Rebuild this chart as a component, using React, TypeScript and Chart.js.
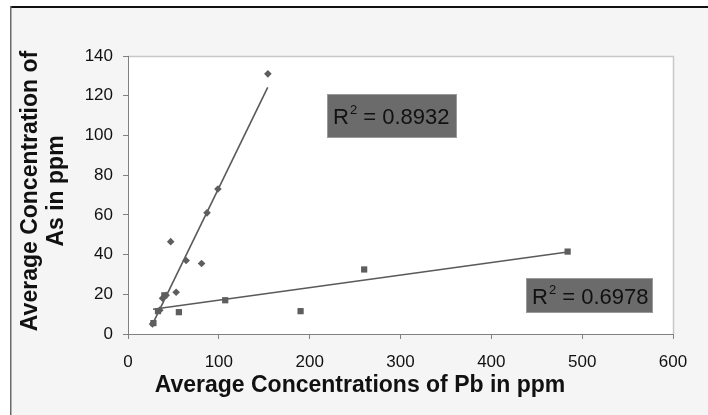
import React, { useEffect, useRef } from "react";
import { Chart, registerables } from "chart.js";

Chart.register(...registerables);

// Series 1 (diamonds): As vs Pb, steep group
const asGroupX = [154, 99, 87, 47, 64, 81, 53, 42, 38, 35, 27];
const asGroupY = [131, 73, 61, 46.5, 37, 35.5, 21, 19.5, 18, 12, 5];
// Series 2 (squares)
const pbGroupX = [484, 260, 190, 107, 56, 40, 33, 28];
const pbGroupY = [41.5, 32.5, 11.5, 17, 11, 19.5, 11.5, 5.5];
// Linear trendline end points
const trendAsX = [26.5, 153.8];
const trendAsY = [4.5, 124.2];
const trendPbX = [27.6, 484];
const trendPbY = [12.5, 41.3];
// Axis ticks
const xTicks = [0, 100, 200, 300, 400, 500, 600];
const yTicks = [0, 20, 40, 60, 80, 100, 120, 140];
// Labels
const xTitle = "Average Concentrations of Pb in ppm";
const yTitle1 = "Average Concentration of";
const yTitle2 = "As in ppm";
const r2As = "0.8932";
const r2Pb = "0.6978";

const zip = (xs: number[], ys: number[]) => xs.map((x, i) => ({ x, y: ys[i] }));

export default function App() {
  const ref = useRef<HTMLCanvasElement | null>(null);

  useEffect(() => {
    const canvas = ref.current;
    if (!canvas) return;
    const FONT = "'Liberation Sans', Arial, sans-serif";

    const frame = {
      id: "frame",
      beforeDraw(chart: any) {
        const { ctx, chartArea: a, width, height } = chart;
        ctx.save();
        ctx.fillStyle = "#ffffff";
        ctx.fillRect(0, 0, width, height);
        ctx.fillStyle = "#f5f5f5";
        ctx.fillRect(10, 6, width - 10, height - 6);
        ctx.fillStyle = "#111111";
        ctx.fillRect(10, 6, width - 10, 2);
        ctx.fillStyle = "#6a6a6a";
        ctx.fillRect(10, 6, 1.5, height - 6);
        ctx.fillStyle = "#ffffff";
        ctx.fillRect(a.left, a.top, a.right - a.left, a.bottom - a.top);
        ctx.strokeStyle = "#c8c8c8";
        ctx.lineWidth = 1.5;
        ctx.beginPath();
        ctx.moveTo(a.left, a.top + 0.5);
        ctx.lineTo(a.right + 0.5, a.top + 0.5);
        ctx.lineTo(a.right + 0.5, a.bottom);
        ctx.stroke();
        ctx.restore();
      },
      afterDraw(chart: any) {
        const { ctx, chartArea: a } = chart;
        ctx.save();
        // axis titles
        ctx.fillStyle = "#111111";
        ctx.font = `bold 23px ${FONT}`;
        ctx.textAlign = "center";
        ctx.textBaseline = "alphabetic";
        ctx.fillText(xTitle, 360, 392);
        ctx.save();
        ctx.translate(0, 191);
        ctx.rotate(-Math.PI / 2);
        ctx.textBaseline = "middle";
        ctx.fillText(yTitle1, 0, 31);
        ctx.fillText(yTitle2, 0, 57);
        ctx.restore();

        const box = (x: number, y: number, w: number, h: number, val: string) => {
          ctx.fillStyle = "#6b6b6b";
          ctx.fillRect(x, y, w, h);
          ctx.strokeStyle = "#9a9a9a";
          ctx.lineWidth = 1;
          ctx.strokeRect(x + 0.5, y + 0.5, w - 1, h - 1);
          ctx.fillStyle = "#111111";
          ctx.textAlign = "left";
          ctx.textBaseline = "alphabetic";
          ctx.font = `22px ${FONT}`;
          const base = y + h / 2 + 8;
          let cx = x + 6;
          ctx.fillText("R", cx, base);
          cx += ctx.measureText("R").width + 1;
          ctx.font = `13px ${FONT}`;
          ctx.fillText("2", cx, base - 10);
          cx += ctx.measureText("2").width;
          ctx.font = `22px ${FONT}`;
          ctx.fillText(" = " + val, cx, base);
        };
        box(a.left + 199, a.top + 38, 130, 44, r2As);
        box(a.left + 398, a.top + 222, 127, 35, r2Pb);
        ctx.restore();
      },
    };

    const tickStyle = {
      color: "#111111",
      font: { family: "'Liberation Sans', Arial, sans-serif", size: 17 },
    };

    const chart = new Chart(canvas, {
      type: "scatter",
      data: {
        datasets: [
          {
            label: "As",
            data: zip(asGroupX, asGroupY),
            pointStyle: "rectRot",
            pointRadius: 3.8,
            backgroundColor: "#5e5e5e",
            borderColor: "#5e5e5e",
            borderWidth: 0,
          },
          {
            label: "Pb",
            data: zip(pbGroupX, pbGroupY),
            pointStyle: "rect",
            pointRadius: 4.4,
            backgroundColor: "#5e5e5e",
            borderColor: "#5e5e5e",
            borderWidth: 0,
          },
          {
            label: "trendAs",
            data: zip(trendAsX, trendAsY),
            showLine: true,
            pointRadius: 0,
            borderColor: "#5a5a5a",
            borderWidth: 1.6,
          },
          {
            label: "trendPb",
            data: zip(trendPbX, trendPbY),
            showLine: true,
            pointRadius: 0,
            borderColor: "#5a5a5a",
            borderWidth: 1.6,
          },
        ],
      },
      options: {
        responsive: false,
        animation: false,
        layout: { padding: { left: 0, top: 56, right: 35, bottom: 0 } },
        plugins: { legend: { display: false }, tooltip: { enabled: false } },
        scales: {
          x: {
            type: "linear",
            min: 0,
            max: 600,
            afterBuildTicks: (s: any) => {
              s.ticks = xTicks.map((v) => ({ value: v }));
            },
            ticks: { ...tickStyle, padding: 13 },
            grid: { drawOnChartArea: false, drawTicks: true, tickLength: 5, color: "#808080" },
            border: { display: true, color: "#808080", width: 1 },
            afterFit: (s: any) => {
              s.height = 81;
            },
          },
          y: {
            type: "linear",
            min: 0,
            max: 140,
            afterBuildTicks: (s: any) => {
              s.ticks = yTicks.map((v) => ({ value: v }));
            },
            ticks: { ...tickStyle, padding: 10 },
            grid: { drawOnChartArea: false, drawTicks: true, tickLength: 5, color: "#808080" },
            border: { display: true, color: "#808080", width: 1 },
            afterFit: (s: any) => {
              s.width = 128;
            },
          },
        },
      },
      plugins: [frame],
    } as any);

    return () => chart.destroy();
  }, []);

  return (
    <div style={{ position: "fixed", left: 0, top: 0, width: 708, height: 415 }}>
      <canvas ref={ref} width={708} height={415} style={{ display: "block" }} />
    </div>
  );
}
